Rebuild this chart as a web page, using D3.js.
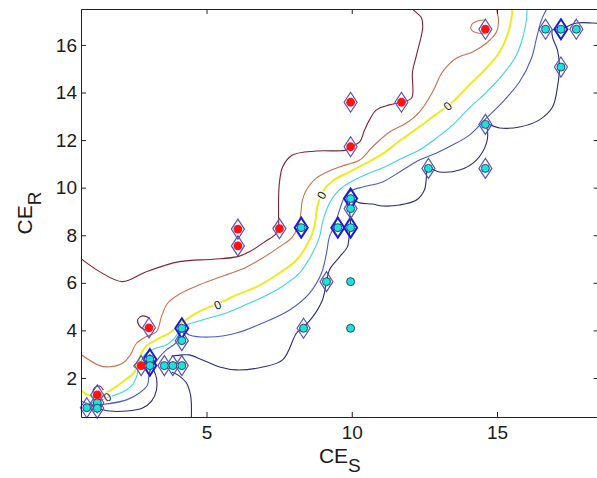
<!DOCTYPE html>
<html>
<head>
<meta charset="utf-8">
<script src="https://cdn.jsdelivr.net/npm/d3@7"></script>
<style>
  html, body { margin: 0; padding: 0; background: #fff; }
  svg { display: block; }
  text { font-family: "Liberation Sans", Arial, Helvetica, sans-serif; }
</style>
</head>
<body>
<svg id="chart" width="597" height="478"></svg>
<script>
// ---- axis setup ----
const xDomain = [0.68, 18.5];
const yDomain = [0.36, 17.51];
const xTicks = [5, 10, 15];
const yTicks = [2, 4, 6, 8, 10, 12, 14, 16];

// ---- class +1 samples (red) ----
const redX  = [6.08, 6.08, 7.51, 9.96, 9.96, 11.71, 14.6, 3.02, 2.75, 1.24];
const redY  = [8.26, 7.55, 8.28, 11.72, 13.59, 13.59, 16.66, 4.11, 2.52, 1.29];
// support-vector type: 0 = none, 1 = margin SV, 2 = bounded SV
const redSV = [1, 1, 1, 1, 1, 1, 1, 1, 1, 1];

// ---- class -1 samples (cyan) ----
const cyanX  = [0.88, 1.24, 1.24, 3.05, 3.05, 3.55, 3.84, 4.15, 4.15, 4.15, 8.26, 9.52, 9.96, 9.96, 9.96, 9.13, 9.96, 8.34, 9.96, 12.64, 14.6, 14.6, 16.67, 17.2, 17.73, 17.2];
const cyanY  = [0.75, 0.96, 0.73, 2.79, 2.52, 2.52, 2.52, 2.52, 3.57, 4.09, 8.32, 8.32, 8.32, 9.12, 9.54, 6.05, 6.05, 4.09, 4.09, 10.81, 10.81, 12.66, 16.66, 16.66, 16.66, 15.07];
const cyanSV = [1, 1, 1, 2, 2, 1, 1, 1, 1, 2, 2, 2, 2, 1, 2, 1, 0, 1, 0, 1, 1, 1, 1, 2, 1, 1];

// ---- decision-function contour lines, [CE_S, CE_R] ----
const levelP1 = [[0.56,7.13],[1.32,6.47],[2.11,6.05],[2.93,6.47],[4.07,6.89],[5.21,6.99],[6.07,7.1],[6.48,7.31],[7.0,7.72],[7.44,8.14],[7.48,8.85],[7.48,9.48],[7.51,10.2],[7.62,10.87],[7.96,11.37],[8.79,11.54],[9.82,11.58],[9.96,11.71],[10.27,11.92],[10.44,12.42],[10.61,12.85],[10.85,13.27],[11.3,13.48],[11.71,13.6],[12.06,13.77],[12.09,14.86],[12.23,15.58],[12.44,16.71],[12.4,17.13],[12.09,17.51],[11.99,17.72]];
const levelP1loopA = [[3.04,4.52],[2.8,4.61],[2.63,4.44],[2.69,4.19],[2.87,4.02]];
const levelP1loopB = [[1.08,1.37],[1.14,1.58],[1.32,1.66],[1.45,1.5]];

const levelP05 = [[0.56,3.09],[1.32,2.52],[1.66,2.47],[2.11,2.62],[2.38,2.97],[2.59,3.46],[2.93,3.74],[3.28,3.95],[3.45,4.58],[3.66,5.14],[4.07,5.53],[4.66,5.87],[5.28,6.16],[5.86,6.41],[6.38,6.67],[6.93,7.04],[7.51,7.51],[7.93,7.89],[8.13,8.31],[8.24,8.85],[8.3,9.48],[8.44,9.9],[8.79,10.41],[9.48,10.83],[10.27,11.16],[10.71,11.71],[11.3,12.34],[11.88,12.72],[12.33,13.18],[12.78,14.02],[13.12,14.86],[13.61,15.45],[14.16,15.7],[14.64,16.08],[14.98,16.54],[15.05,17.05],[14.98,17.51],[14.95,17.72]];
const levelP05loopA = [[2.66,2.67],[2.49,2.5],[2.66,2.38]];
const levelP05loopB = [[14.6,17.05],[14.33,17.01],[14.12,16.84],[14.12,16.63],[14.33,16.5],[14.6,16.46]];

const levelZero = [[0.56,1.62],[0.9,1.29],[1.32,1.24],[1.66,1.45],[2.11,1.83],[2.52,2.25],[2.66,2.67],[2.76,3.05],[2.93,3.35],[3.38,3.68],[3.73,3.89],[4.17,4.35],[4.86,4.86],[5.45,5.15],[6.03,5.49],[6.72,5.83],[7.41,6.33],[8.1,6.96],[8.55,7.8],[8.72,8.39],[8.82,9.23],[8.99,9.82],[9.34,10.28],[9.92,10.66],[10.51,11.04],[11.06,11.42],[11.64,11.96],[12.23,12.47],[12.88,13.06],[13.47,13.6],[14.05,14.32],[14.64,15.03],[15.09,15.7],[15.36,16.42],[15.5,17.13],[15.53,17.51],[15.53,17.72]];
const zeroLabels = [[1.59,1.2],[5.38,5.07],[8.96,9.69],[13.3,13.43]];

const levelN03 = [[0.83,0.91],[1.32,1.03],[1.56,1.16],[2.11,1.41],[2.45,1.71],[2.59,2.04],[2.69,2.55],[2.93,3.05],[3.28,3.26],[3.62,3.39],[3.9,3.68],[4.17,4.14],[4.86,4.44],[5.69,4.73],[6.48,5.15],[7.41,5.7],[8.2,6.41],[8.65,7.25],[8.89,7.93],[8.99,8.52],[9.13,9.06],[9.34,9.57],[9.65,9.99],[10.09,10.32],[10.61,10.62],[11.13,10.87],[11.75,11.25],[12.33,11.58],[12.92,12.09],[13.47,12.63],[14.05,13.35],[14.64,14.02],[15.19,14.74],[15.67,15.58],[15.88,16.29],[16.02,17.13],[16.02,17.72]];

const levelN06 = [[0.7,1.03],[1.04,0.87],[1.56,0.91],[2.25,1.08],[2.69,1.37],[2.97,1.71],[3.04,2.25],[3.38,2.88],[3.62,3.18],[3.97,3.51],[4.14,4.02],[4.41,3.81],[5.1,3.72],[6.03,3.89],[6.93,4.31],[7.86,4.86],[8.55,5.57],[8.96,6.41],[9.13,7.25],[9.23,7.93],[9.41,8.43],[9.58,9.06],[9.75,9.61],[9.96,9.86],[10.37,10.03],[11.06,10.24],[11.75,10.74],[12.33,11.16],[12.92,11.46],[13.47,11.79],[14.05,12.21],[14.64,12.93],[15.19,13.6],[15.77,14.44],[16.19,15.45],[16.36,16.29],[16.53,17.05],[16.7,17.51],[16.74,17.72]];

const levelN1a = [[3.8,2.92],[4.17,2.97],[4.41,2.97],[4.86,2.76],[5.45,2.46],[6.03,2.34],[6.93,2.46],[7.62,2.76],[8.1,3.89],[8.3,4.1],[8.65,4.56],[8.99,5.28],[9.13,6.04],[9.23,6.54],[9.58,7.09],[9.85,7.51],[9.92,8.1],[9.96,8.31],[9.96,9.52],[10.27,9.36],[10.71,9.31],[11.06,9.23],[11.64,9.27],[12.23,9.48],[12.5,9.9],[12.57,10.45],[12.61,10.83],[13.02,10.66],[13.71,10.74],[14.29,11.16],[14.64,11.88],[14.67,12.42],[14.6,12.68],[15.09,12.51],[15.77,12.55],[16.46,12.85],[16.91,13.39],[17.08,14.23],[17.15,15.07],[17.08,15.79],[16.91,16.33],[16.91,16.63],[17.19,16.67],[17.74,16.92],[18.29,16.92],[18.7,16.88]];
const levelN1b = [[1.21,0.74],[1.66,0.61],[2.25,0.61],[2.8,0.74],[3.11,1.03],[3.28,1.5],[3.28,2.0],[3.18,2.34]];
const levelN1c = [[3.8,2.25],[4.07,2.08],[4.31,1.79],[4.45,1.29],[4.48,0.87],[4.48,0.36],[4.48,0.15]];

// ---- drawing ----
const svg = d3.select("#chart");
const x = d3.scaleLinear().domain(xDomain).range([81, 598.7]);
const y = d3.scaleLinear().domain(yDomain).range([417, 9]);

const levelColor = {
  "1": "#7e2330",
  "0.5": "#c9714c",
  "0": "#ecec1e",
  "-0.3": "#3fd3e3",
  "-0.6": "#4a5cc4",
  "-1": "#2c2c7a"
};

const contours = [
  { level: "1", pts: levelP1 },
  { level: "1", pts: levelP1loopA },
  { level: "1", pts: levelP1loopB },
  { level: "0.5", pts: levelP05 },
  { level: "0.5", pts: levelP05loopA },
  { level: "0.5", pts: levelP05loopB },
  { level: "-1", pts: levelN1a },
  { level: "-1", pts: levelN1b },
  { level: "-1", pts: levelN1c },
  { level: "-0.6", pts: levelN06 },
  { level: "-0.3", pts: levelN03 },
  { level: "0", pts: levelZero }
];

svg.append("defs").append("clipPath").attr("id", "plotClip")
  .append("rect")
  .attr("x", x.range()[0]).attr("y", y.range()[1])
  .attr("width", x.range()[1] - x.range()[0])
  .attr("height", y.range()[0] - y.range()[1]);

const line = d3.line()
  .x(d => x(d[0])).y(d => y(d[1]))
  .curve(d3.curveCatmullRom.alpha(0.5));

const gLines = svg.append("g").attr("clip-path", "url(#plotClip)");
gLines.selectAll("path")
  .data(contours)
  .join("path")
  .attr("d", d => line(d.pts))
  .attr("fill", "none")
  .attr("stroke", d => levelColor[d.level])
  .attr("stroke-width", d => d.level === "0" ? 2 : 1.1)
  .attr("stroke-linejoin", "round");

// inline labels on the zero level, turned along the line
const slope = (px, py) => {
  let best = 0, bd = Infinity;
  levelZero.forEach((p, i) => {
    const dd = (p[0] - px) ** 2 + (p[1] - py) ** 2;
    if (dd < bd) { bd = dd; best = i; }
  });
  const a = levelZero[Math.max(0, best - 1)], b = levelZero[Math.min(levelZero.length - 1, best + 1)];
  return Math.atan2(y(b[1]) - y(a[1]), x(b[0]) - x(a[0])) * 180 / Math.PI;
};
gLines.selectAll("text.clabel")
  .data(zeroLabels)
  .join("text")
  .attr("class", "clabel")
  .attr("transform", d => `translate(${x(d[0])},${y(d[1])}) rotate(${slope(d[0], d[1])})`)
  .attr("text-anchor", "middle")
  .attr("dy", "0.36em")
  .attr("font-size", 12)
  .attr("fill", "#222")
  .attr("stroke", "#fff")
  .attr("stroke-width", 2.5)
  .attr("paint-order", "stroke")
  .text("0");

// samples
const reds = redX.map((v, i) => ({ x: v, y: redY[i], sv: redSV[i], cls: 1 }));
const cyans = cyanX.map((v, i) => ({ x: v, y: cyanY[i], sv: cyanSV[i], cls: -1 }));
const all = cyans.concat(reds);

const diamond = "M0,-10L6.5,0L0,10L-6.5,0Z";
svg.append("g").selectAll("path")
  .data(all.filter(d => d.sv > 0))
  .join("path")
  .attr("d", diamond)
  .attr("transform", d => `translate(${x(d.x)},${y(d.y)})`)
  .attr("fill", "none")
  .attr("stroke", d => d.sv === 2 ? "#1a1ad8" : "#5a52b8")
  .attr("stroke-width", d => d.sv === 2 ? 2 : 1.2)
  .attr("stroke-linejoin", "miter");

svg.append("g").selectAll("circle")
  .data(all)
  .join("circle")
  .attr("cx", d => x(d.x))
  .attr("cy", d => y(d.y))
  .attr("r", d => d.cls === 1 ? 4.4 : 4)
  .attr("fill", d => d.cls === 1 ? "#ff1212" : "#22dede")
  .attr("stroke", d => d.cls === 1 ? "none" : "#154050")
  .attr("stroke-width", 0.9);

// axes
const styleAxis = g => {
  g.select(".domain").attr("stroke", "#222").attr("stroke-width", 1);
  g.selectAll(".tick line").attr("stroke", "#222");
  g.selectAll(".tick text").attr("font-size", 19).attr("fill", "#1a1a1a")
    .attr("font-family", "\"Liberation Sans\", Arial, sans-serif");
};

svg.append("g").attr("transform", `translate(${x.range()[0]},0)`)
  .call(d3.axisLeft(y).tickValues(yTicks).tickSize(-5).tickSizeOuter(0).tickPadding(4))
  .call(styleAxis);
svg.append("g").attr("transform", `translate(0,${y.range()[0]})`)
  .call(d3.axisBottom(x).tickValues(xTicks).tickSize(-5).tickSizeOuter(0).tickPadding(9))
  .call(styleAxis);
svg.append("g").attr("transform", `translate(0,${y.range()[1]})`)
  .call(d3.axisTop(x).tickValues(xTicks).tickSize(-5).tickSizeOuter(0).tickFormat(""))
  .call(styleAxis);
svg.append("g").attr("transform", `translate(${x.range()[1]},0)`)
  .call(d3.axisRight(y).tickValues(yTicks).tickSize(-5).tickSizeOuter(0).tickFormat(""))
  .call(styleAxis);

// axis titles
const xt = svg.append("text")
  .attr("x", (x.range()[0] + x.range()[1]) / 2).attr("y", 463)
  .attr("text-anchor", "middle").attr("font-size", 21).attr("fill", "#1a1a1a");
xt.append("tspan").text("CE");
xt.append("tspan").attr("dy", 9).attr("font-size", 19).text("S");

const yt = svg.append("text")
  .attr("transform", `translate(32,${(y.range()[0] + y.range()[1]) / 2}) rotate(-90)`)
  .attr("text-anchor", "middle").attr("font-size", 21).attr("fill", "#1a1a1a");
yt.append("tspan").text("CE");
yt.append("tspan").attr("dy", 9).attr("font-size", 19).text("R");
</script>
</body>
</html>
